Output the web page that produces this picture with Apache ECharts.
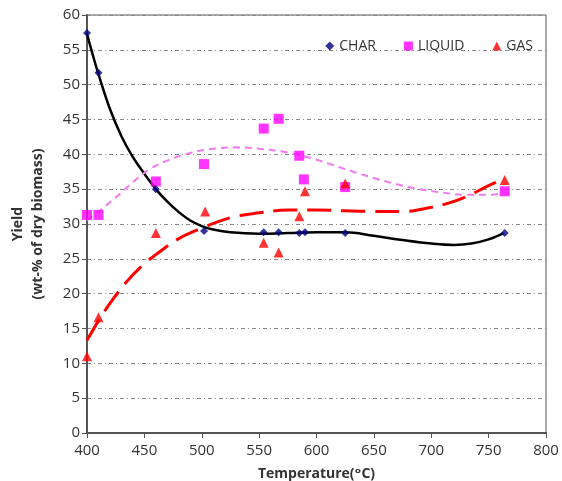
<!DOCTYPE html>
<html lang="en">
<head>
    <meta charset="UTF-8">
    <title>Yield vs Temperature</title>
    <script src="https://cdn.jsdelivr.net/npm/echarts@6/dist/echarts.min.js"></script>
    <style>
        html, body { margin: 0; padding: 0; background: #fff; }
    </style>
</head>
<body>
<div id="chart" style="width: 562px; height: 481px"></div>
<script>
    // measured points [temperature, yield]
    var charPoints = [[400, 57.4], [410, 51.7], [460, 35.0], [502, 29.0], [554, 28.8], [567, 28.8],
        [585, 28.7], [590, 28.8], [625, 28.7], [764, 28.7]];
    var liquidPoints = [[400, 31.3], [410, 31.3], [460, 36.1], [502, 38.6], [554, 43.7], [567, 45.1],
        [585, 39.8], [589, 36.4], [625, 35.3], [764, 34.7]];
    var gasPoints = [[400, 11.0], [410, 16.6], [460, 28.7], [503, 31.8], [554, 27.3], [567, 25.9],
        [585, 31.1], [590, 34.7], [625, 35.8], [764, 36.3]];

    // trend lines
    var charTrend = [[400, 57.3], [405, 54.3], [410, 51.5], [420, 46.5], [430, 42.6], [440, 39.6],
        [450, 37.2], [460, 35.0], [470, 33.2], [480, 31.7], [490, 30.5], [500, 29.7], [510, 29.2],
        [525, 28.8], [550, 28.6], [575, 28.7], [600, 28.8], [625, 28.8], [650, 28.3], [675, 27.7],
        [700, 27.2], [720, 27.0], [735, 27.2], [750, 27.8], [763, 28.7]];
    var liquidTrend = [[400, 30.5], [410, 31.8], [425, 33.8], [440, 36.0], [455, 37.9], [470, 39.1],
        [490, 40.2], [510, 40.8], [530, 41.0], [550, 40.8], [570, 40.4], [590, 39.7], [610, 38.7],
        [630, 37.6], [650, 36.6], [670, 35.7], [690, 35.0], [710, 34.5], [730, 34.2], [750, 34.2],
        [763, 34.4]];
    var gasTrend = [[400, 13.3], [410, 16.1], [420, 18.6], [435, 21.8], [450, 24.3], [460, 25.6],
        [480, 27.9], [500, 29.4], [525, 30.9], [550, 31.6], [575, 32.0], [600, 32.0], [625, 31.9],
        [650, 31.8], [675, 31.8], [700, 32.4], [715, 33.0], [730, 33.9], [750, 35.5], [763, 36.5]];

    var seriesNames = ['CHAR', 'LIQUID', 'GAS'];

    var myChart = echarts.init(document.getElementById('chart'));
    var font = '"Open Sans", "DejaVu Sans", sans-serif';
    var gridLine = { color: '#8a8a8a', width: 1, type: [4, 3, 1, 3] };

    var option = {
        animation: false,
        backgroundColor: '#fff',
        textStyle: { fontFamily: font },
        grid: {
            left: 87, right: 16, top: 15, bottom: 48,
            outerBoundsMode: 'none',
            show: true, borderColor: '#555', borderWidth: 1
        },
        legend: {
            data: seriesNames,
            top: 34,
            right: 24,
            itemWidth: 9,
            itemHeight: 9,
            itemGap: 28,
            textStyle: { fontSize: 14, color: '#333', fontFamily: font }
        },
        xAxis: {
            type: 'value',
            min: 400, max: 800, interval: 50,
            name: 'Temperature(ᵒC)',
            nameLocation: 'middle',
            nameGap: 34,
            nameTextStyle: { fontSize: 14, fontWeight: 'bold', color: '#333' },
            axisLine: { lineStyle: { color: '#555', width: 2 } },
            axisTick: { show: true, length: 5, lineStyle: { color: '#555' } },
            axisLabel: { fontSize: 15, color: '#333', margin: 10 },
            splitLine: { show: false }
        },
        yAxis: {
            type: 'value',
            min: 0, max: 60, interval: 5,
            name: 'Yield\n(wt-% of dry biomass)',
            nameLocation: 'middle',
            nameRotate: 90,
            nameGap: 39,
            nameTextStyle: { fontSize: 14, fontWeight: 'bold', color: '#333', lineHeight: 20 },
            axisLine: { show: true, lineStyle: { color: '#555', width: 2 } },
            axisTick: { show: true, length: 5, lineStyle: { color: '#555' } },
            axisLabel: { fontSize: 15, color: '#333', margin: 7 },
            splitLine: { show: true, lineStyle: gridLine }
        },
        series: [
            {
                name: 'CHAR trend', type: 'line', data: charTrend, smooth: 0.4,
                showSymbol: false, silent: true,
                lineStyle: { color: '#000', width: 2.5 }, z: 2
            },
            {
                name: 'LIQUID trend', type: 'line', data: liquidTrend, smooth: 0.4,
                showSymbol: false, silent: true,
                lineStyle: { color: '#f07af0', width: 2, type: [7, 5] }, z: 2
            },
            {
                name: 'GAS trend', type: 'line', data: gasTrend, smooth: 0.4,
                showSymbol: false, silent: true,
                lineStyle: { color: '#ff0000', width: 3, type: [24, 10] }, z: 2
            },
            {
                name: 'CHAR', type: 'scatter', data: charPoints,
                symbol: 'diamond', symbolSize: 8,
                itemStyle: { color: '#000080' }, z: 4
            },
            {
                name: 'LIQUID', type: 'scatter', data: liquidPoints,
                symbol: 'rect', symbolSize: 10,
                itemStyle: { color: '#ff00ff' }, z: 3
            },
            {
                name: 'GAS', type: 'scatter', data: gasPoints,
                symbol: 'triangle', symbolSize: 10,
                itemStyle: { color: '#ff0000' }, z: 3
            }
        ]
    };
    myChart.setOption(option);
</script>
</body>
</html>
